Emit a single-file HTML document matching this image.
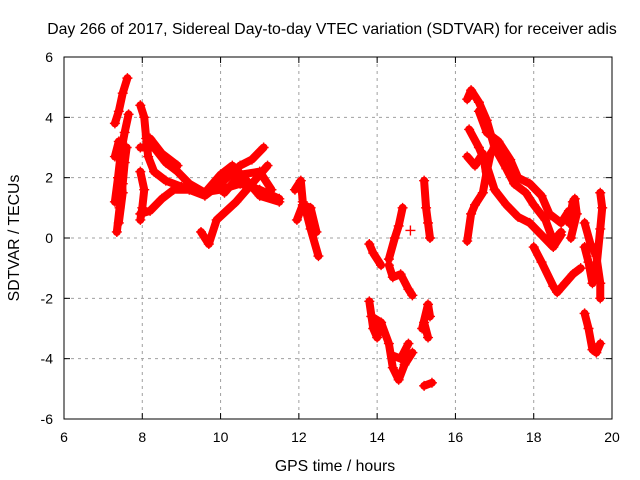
<!DOCTYPE html>
<html><head><meta charset="utf-8"><style>
body{margin:0;background:#fff}
svg{display:block;font-family:"Liberation Sans",sans-serif}
</style></head><body>
<svg id="c" width="640" height="480">
<rect x="0" y="0" width="640" height="480" fill="#fff"/>
<text x="332" y="34" text-anchor="middle" font-size="15.8">Day 266 of 2017, Sidereal Day-to-day VTEC variation (SDTVAR) for receiver adis</text>
<g id="grid"></g><g id="data"></g><g id="axes"></g>
<text x="335" y="471" text-anchor="middle" font-size="15.8">GPS time / hours</text>
<text transform="translate(19,238) rotate(-90)" text-anchor="middle" font-size="15.8">SDTVAR / TECUs</text>
</svg>
<script>
const xTicks=[6,8,10,12,14,16,18,20];
const yTicks=[-6,-4,-2,0,2,4,6];
const tracks=[
[[7.3,3.8],[7.4,4.2],[7.5,4.8],[7.62,5.3]],
[[7.3,1.2],[7.38,2.0],[7.45,2.8],[7.55,3.5],[7.65,4.1]],
[[7.35,0.2],[7.42,1.0],[7.5,1.8],[7.55,2.5],[7.6,3.0]],
[[7.3,2.7],[7.4,3.2],[7.45,2.4],[7.5,1.5],[7.4,0.5]],
[[7.95,4.4],[8.05,4.0],[8.1,3.3],[8.15,2.7],[8.3,2.2],[8.6,1.9],[9.0,1.7],[9.5,1.5],[10,1.6],[10.5,1.8],[11,1.6],[11.5,1.3]],
[[7.95,0.8],[8.2,0.9],[8.5,1.3],[8.8,1.6],[9.2,1.6],[9.6,1.4],[10,1.8],[10.5,2.4],[10.8,2.6],[11.1,3.0]],
[[7.95,3.0],[8.3,3.0],[8.6,2.5],[8.9,2.2],[9.2,1.8],[9.6,1.5],[10,2.1],[10.3,2.4],[10.6,2.0],[11,1.4],[11.5,1.2]],
[[7.95,2.2],[8.05,1.6],[8.0,1.0],[7.95,0.6]],
[[8.2,3.3],[8.5,2.8],[8.9,2.4]],
[[9.5,0.2],[9.7,-0.2],[9.9,0.6],[10.4,1.2],[10.8,1.8],[11.2,2.4]],
[[10.1,1.5],[10.5,2.1],[11.0,2.2],[11.3,1.6]],
[[11.9,1.6],[12.05,1.9],[12.1,1.2],[12.2,0.8],[12.3,0.3],[12.5,-0.6]],
[[11.95,0.6],[12.1,1.1],[12.3,1.0],[12.45,0.2]],
[[13.8,-0.2],[13.9,-0.5],[14.1,-0.9]],
[[13.8,-2.1],[13.9,-3.0],[14.0,-3.3],[14.1,-2.8]],
[[13.85,-2.6],[14.1,-2.8],[14.3,-3.5],[14.4,-4.3],[14.55,-4.7],[14.7,-4.2],[14.9,-3.8]],
[[14.3,-0.9],[14.4,-1.3],[14.6,-1.2],[14.8,-1.7],[14.9,-1.9]],
[[14.3,-0.7],[14.45,0.0],[14.55,0.4],[14.65,1.0]],
[[14.4,-3.9],[14.6,-4.0],[14.8,-3.5]],
[[14.85,0.25]],
[[15.2,1.9],[15.25,1.0],[15.3,0.5],[15.35,0.0]],
[[15.15,-3.0],[15.3,-2.2],[15.35,-2.6]],
[[15.2,-4.9],[15.4,-4.8]],
[[15.2,-2.8],[15.3,-3.3]],
[[16.3,4.6],[16.4,4.9],[16.6,4.5],[16.8,3.9],[17.0,3.0],[17.3,2.3],[17.5,1.8],[17.8,1.5],[18.0,1.1],[18.3,0.6],[18.5,-0.1],[18.7,0.2]],
[[16.6,4.2],[16.8,3.5],[17.1,3.2],[17.4,2.6],[17.6,2.0],[17.9,1.8],[18.2,1.4],[18.4,0.8],[18.7,0.5],[18.9,0.9]],
[[16.35,3.6],[16.6,3.0],[16.8,2.4],[17.0,1.6],[17.3,1.1],[17.6,0.7],[17.9,0.5],[18.2,0.1],[18.5,-0.3],[18.7,0.1]],
[[16.3,-0.1],[16.4,0.8],[16.5,1.1],[16.7,1.5],[16.8,2.2],[16.9,2.8],[17.0,3.0]],
[[16.3,2.7],[16.5,2.4],[16.7,2.8],[16.8,2.0]],
[[18.0,-0.3],[18.2,-0.8],[18.5,-1.6],[18.6,-1.8],[18.8,-1.5],[19.0,-1.2],[19.2,-1.0]],
[[18.9,0.5],[19.0,1.2],[19.05,1.3],[19.1,0.8],[18.95,0.0]],
[[19.3,-0.3],[19.4,-0.8],[19.5,-1.5],[19.6,-1.0],[19.7,0.3],[19.75,1.0],[19.7,1.5]],
[[19.3,0.5],[19.45,-0.2],[19.6,-0.6],[19.7,-1.5],[19.7,-2.0]],
[[19.3,-2.5],[19.4,-3.0],[19.5,-3.7],[19.6,-3.8],[19.7,-3.5]]
];
const X0=64,X1=612,Y0=419,Y1=57;
const sx=t=>X0+(t-6)/(20-6)*(X1-X0);
const sy=v=>Y0-(v+6)/12*(Y0-Y1);
const NS="http://www.w3.org/2000/svg";
function mk(tag,attrs,parent){const e=document.createElementNS(NS,tag);for(const k in attrs)e.setAttribute(k,attrs[k]);parent.appendChild(e);return e;}
const grid=document.getElementById('grid'),axes=document.getElementById('axes'),data=document.getElementById('data');
xTicks.forEach(t=>{
 if(t>6&&t<20){const g=mk('line',{x1:sx(t),x2:sx(t),y1:Y1,y2:Y0,stroke:'#a0a0a0','stroke-dasharray':'3,4'},grid);
 
 }
 mk('line',{x1:sx(t),x2:sx(t),y1:Y0,y2:Y0-6,stroke:'#000'},axes);
 mk('line',{x1:sx(t),x2:sx(t),y1:Y1,y2:Y1+6,stroke:'#000'},axes);
 const l=mk('text',{x:sx(t),y:Y0+23,'text-anchor':'middle','font-size':'14'},axes);l.textContent=t;
 
 
});
yTicks.forEach(v=>{
 if(v>-6&&v<6){const g=mk('line',{x1:X0,x2:X1,y1:sy(v),y2:sy(v),stroke:'#a0a0a0','stroke-dasharray':'3,4'},grid);
 
 }
 mk('line',{x1:X0,x2:X0+6,y1:sy(v),y2:sy(v),stroke:'#000'},axes);
 mk('line',{x1:X1,x2:X1-6,y1:sy(v),y2:sy(v),stroke:'#000'},axes);
 const l=mk('text',{x:X0-11,y:sy(v)+5,'text-anchor':'end','font-size':'14'},axes);l.textContent=v;
 
 
});
const fr=mk('rect',{x:X0,y:Y1,width:X1-X0,height:Y0-Y1,fill:'none',stroke:'#000'},axes);


tracks.forEach(tr=>{
 const pl=mk('polyline',{points:tr.map(p=>sx(p[0])+','+sy(p[1])).join(' '),fill:'none',stroke:'#f00','stroke-width':8,'stroke-linejoin':'round','stroke-linecap':'round'},data);
 
 
 tr.forEach(p=>{
  const x=sx(p[0]),y=sy(p[1]);
  const m=mk('path',{d:`M${x-5},${y}H${x+5}M${x},${y-5}V${y+5}`,stroke:'#f00','stroke-width':1.4},data);
  
  
 });
});
</script>
</body></html>
